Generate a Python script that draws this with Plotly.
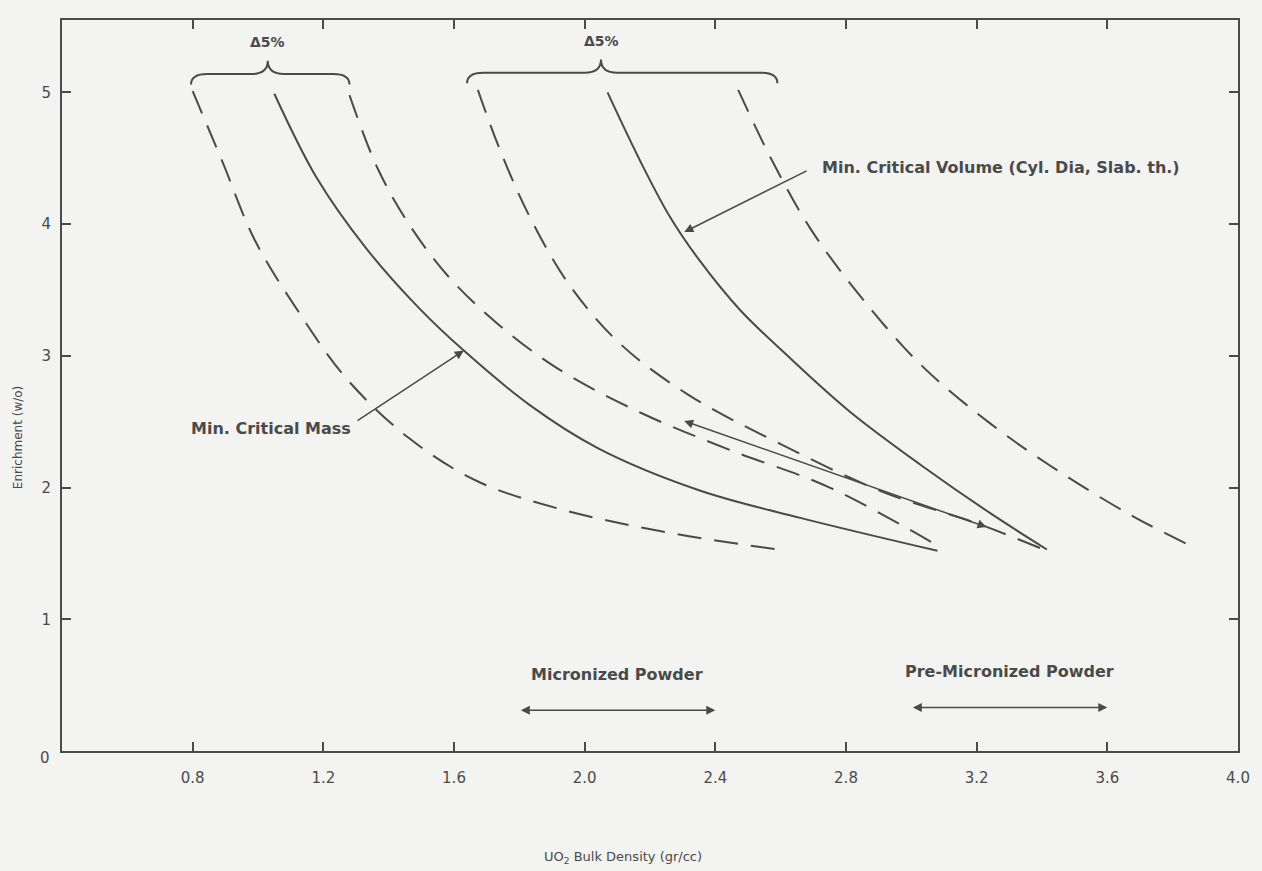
import plotly.graph_objects as go

# ---- data (UO2 bulk density gr/cc vs enrichment w/o) ----
d1_x = [0.80, 0.89, 0.99, 1.12, 1.27, 1.46, 1.67, 1.92, 2.23, 2.59]
d1_y = [5.01, 4.48, 3.88, 3.35, 2.83, 2.38, 2.05, 1.84, 1.67, 1.53]

s1_x = [1.05, 1.18, 1.33, 1.49, 1.63, 1.83, 2.04, 2.35, 2.66, 3.08]
s1_y = [4.99, 4.35, 3.82, 3.37, 3.04, 2.63, 2.30, 1.98, 1.77, 1.52]

d2_x = [1.28, 1.365, 1.457, 1.58, 1.735, 1.92, 2.17, 2.44, 2.75, 3.08]
d2_y = [4.98, 4.43, 4.02, 3.61, 3.24, 2.90, 2.57, 2.29, 2.00, 1.56]

d3_x = [1.673, 1.735, 1.827, 1.95, 2.105, 2.32, 2.60, 2.91, 3.21, 3.415]
d3_y = [5.02, 4.60, 4.08, 3.55, 3.10, 2.70, 2.33, 1.97, 1.72, 1.52]

s2_x = [2.07, 2.17, 2.26, 2.35, 2.475, 2.63, 2.81, 3.03, 3.245, 3.415]
s2_y = [5.00, 4.48, 4.06, 3.73, 3.35, 2.98, 2.58, 2.17, 1.80, 1.53]

d4_x = [2.47, 2.57, 2.69, 2.845, 3.03, 3.245, 3.46, 3.68, 3.87]
d4_y = [5.02, 4.50, 3.97, 3.45, 2.93, 2.48, 2.11, 1.78, 1.54]

x_ticks = [0.8, 1.2, 1.6, 2.0, 2.4, 2.8, 3.2, 3.6, 4.0]
x_tick_labels = ["0.8", "1.2", "1.6", "2.0", "2.4", "2.8", "3.2", "3.6", "4.0"]
y_ticks = [1, 2, 3, 4, 5]
y_tick_labels = ["1", "2", "3", "4", "5"]

# brace extents: (start, middle, end, level)
brace_left = [0.795, 1.03, 1.28, 5.14]
brace_right = [1.64, 2.05, 2.59, 5.15]
brace_label = "\u03945%"

micronized_range = [1.8, 2.4]
premicronized_range = [3.0, 3.6]
# span arrow between the curve groups (density, enrichment at each end)
span_start = [2.30, 2.51]
span_end = [3.23, 1.70]

INK = "#4a4a4a"
BG = "#f3f3f1"
FONT = "DejaVu Sans"

fig = go.Figure()

dash_style = "24px,13px"
for xs, ys, dashed in [(d1_x, d1_y, True), (s1_x, s1_y, False), (d2_x, d2_y, True),
                       (d3_x, d3_y, True), (s2_x, s2_y, False), (d4_x, d4_y, True)]:
    fig.add_trace(go.Scatter(
        x=xs, y=ys, mode="lines",
        line=dict(color=INK, width=2, shape="spline", smoothing=1.0,
                  dash=dash_style if dashed else "solid"),
        showlegend=False, hoverinfo="skip"))


def brace_path(b, up=0.1, hook=0.08):
    x0, xm, x1, yl = b
    p = (f"M {x0} {yl - hook} Q {x0} {yl} {x0 + 0.05} {yl} "
         f"L {xm - 0.05} {yl} Q {xm} {yl} {xm} {yl + up} "
         f"Q {xm} {yl} {xm + 0.05} {yl} "
         f"L {x1 - 0.05} {yl} Q {x1} {yl} {x1} {yl - hook}")
    return p


for b in (brace_left, brace_right):
    fig.add_shape(type="path", path=brace_path(b), xref="x", yref="y",
                  line=dict(color=INK, width=2))
    fig.add_annotation(x=b[1], y=b[3] + 0.24, text=f"<b>{brace_label}</b>",
                       showarrow=False, font=dict(family=FONT, size=14, color=INK))

LBL = dict(family=FONT, size=16, color=INK)

# labelled arrows
fig.add_annotation(x=1.63, y=3.04, ax=1.30, ay=2.50, axref="x", ayref="y",
                   showarrow=True, arrowhead=2, arrowsize=1.2, arrowwidth=1.5,
                   arrowcolor=INK, text="")
fig.add_annotation(x=1.29, y=2.45, text="<b>Min. Critical Mass</b>", showarrow=False,
                   xanchor="right", font=LBL)

fig.add_annotation(x=2.305, y=3.94, ax=2.684, ay=4.41, axref="x", ayref="y",
                   showarrow=True, arrowhead=2, arrowsize=1.2, arrowwidth=1.5,
                   arrowcolor=INK, text="")
fig.add_annotation(x=2.72, y=4.43, text="<b>Min. Critical Volume (Cyl. Dia, Slab. th.)</b>",
                   showarrow=False, xanchor="left", font=LBL)

# double-headed span arrow between groups
fig.add_annotation(x=span_end[0], y=span_end[1], ax=span_start[0], ay=span_start[1],
                   axref="x", ayref="y", showarrow=True, arrowhead=2,
                   arrowside="end+start", arrowsize=1.2, arrowwidth=1.5,
                   arrowcolor=INK, text="")

# powder ranges (double-headed arrows)
for rng, yv, label, ylab in [(micronized_range, 0.31, "Micronized Powder", 0.58),
                             (premicronized_range, 0.33, "Pre-Micronized Powder", 0.60)]:
    fig.add_annotation(x=rng[1], y=yv, ax=rng[0], ay=yv, axref="x", ayref="y",
                       showarrow=True, arrowhead=2, arrowside="end+start",
                       arrowsize=1.2, arrowwidth=1.5, arrowcolor=INK, text="")
    fig.add_annotation(x=(rng[0] + rng[1]) / 2, y=ylab, text=f"<b>{label}</b>",
                       showarrow=False, font=LBL)

# origin label and axis titles
fig.add_annotation(x=-0.0145, y=-0.0096, xref="paper", yref="paper", text="0",
                   xanchor="center", yanchor="middle",
                   showarrow=False, font=dict(family=FONT, size=15, color=INK))
fig.add_annotation(x=-0.0374, y=0.428, xref="paper", yref="paper",
                   xanchor="center", yanchor="middle",
                   text="Enrichment (w/o)", textangle=-90, showarrow=False,
                   font=dict(family=FONT, size=12, color=INK))
fig.add_annotation(x=0.477, y=-0.146, xref="paper", yref="paper",
                   xanchor="center", yanchor="middle",
                   text="UO<sub>2</sub> Bulk Density (gr/cc)", showarrow=False,
                   font=dict(family=FONT, size=13, color=INK))

axis_common = dict(showgrid=False, zeroline=False, showline=True, linecolor=INK,
                   linewidth=2, mirror="ticks", ticks="inside", ticklen=9,
                   tickwidth=1.5, tickcolor=INK,
                   tickfont=dict(family=FONT, size=15, color=INK))

fig.update_xaxes(range=[0.4, 4.0], tickvals=x_ticks, ticktext=x_tick_labels,
                 ticklabelstandoff=12, **axis_common)
fig.update_yaxes(range=[0, 5.55], tickvals=y_ticks, ticktext=y_tick_labels,
                 ticklabelstandoff=6, **axis_common)

fig.update_layout(width=1262, height=871,
                  margin=dict(l=62, r=24, t=20, b=120),
                  paper_bgcolor=BG, plot_bgcolor=BG,
                  font=dict(family=FONT, color=INK))

fig.write_html("out.html")
